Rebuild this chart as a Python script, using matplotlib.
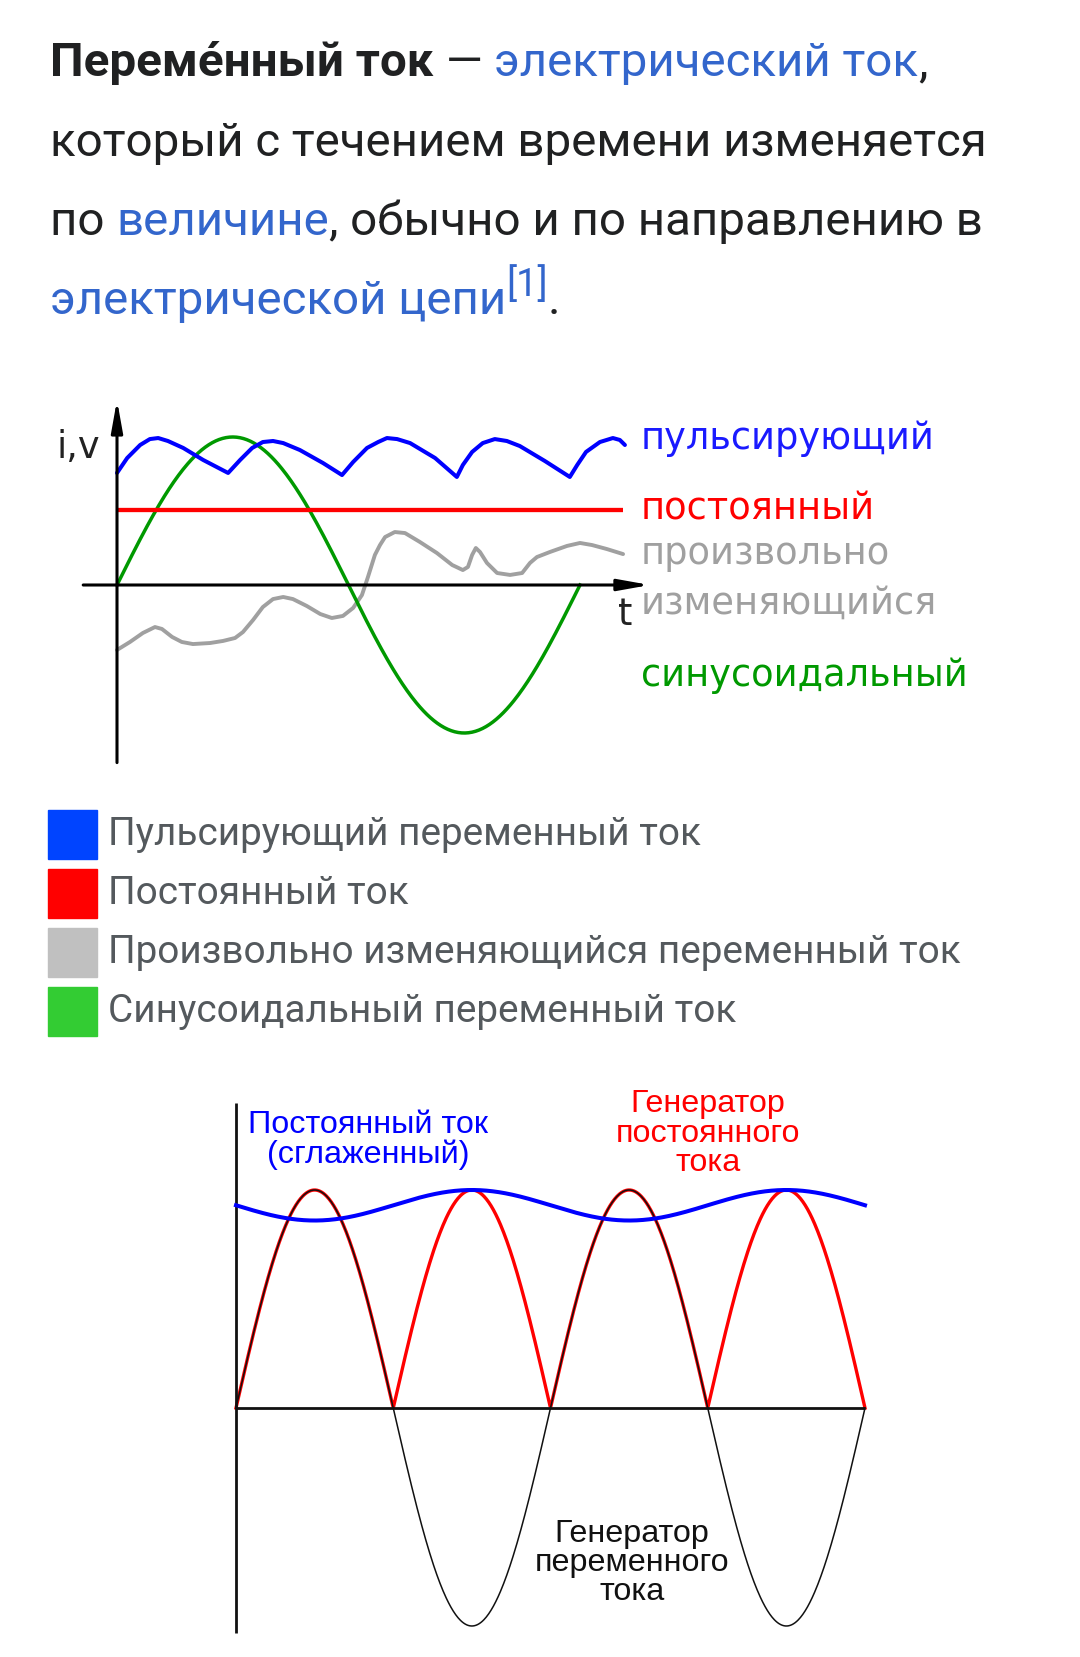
import numpy as np
import matplotlib
matplotlib.use("Agg")
import matplotlib.pyplot as plt

# ---- data: chart 1 (kinds of current) ----
pulse_t = [0.00, 0.22, 0.50, 0.71, 0.89, 1.10, 1.43, 1.86, 2.40,
           2.66, 2.92, 3.15, 3.37, 3.59, 3.95, 4.45, 4.86,
           5.10, 5.40, 5.64, 5.83, 6.05, 6.33, 6.87, 7.34,
           7.47, 7.67, 7.90, 8.16, 8.42, 8.70, 9.24, 9.78,
           9.94, 10.13, 10.43, 10.71, 10.86, 10.97]
pulse_i = [0.757, 0.858, 0.946, 0.986, 0.993, 0.973, 0.926, 0.845, 0.757,
           0.845, 0.926, 0.966, 0.973, 0.959, 0.912, 0.824, 0.743,
           0.831, 0.926, 0.966, 0.993, 0.986, 0.959, 0.858, 0.730,
           0.811, 0.899, 0.959, 0.986, 0.973, 0.939, 0.838, 0.730,
           0.811, 0.899, 0.966, 0.993, 0.980, 0.946]
const_i = 0.51
const_t_end = 10.93
arb_t = [0.00, 0.28, 0.56, 0.82, 0.97, 1.19, 1.40, 1.64, 2.01, 2.29, 2.55, 2.72,
         2.94, 3.15, 3.37, 3.59, 3.80, 4.10, 4.39, 4.64, 4.88, 5.10, 5.29, 5.42,
         5.57, 5.68, 5.79, 6.00, 6.22, 6.54, 6.91, 7.24, 7.47, 7.58, 7.67, 7.75,
         7.84, 7.99, 8.21, 8.49, 8.75, 8.92, 9.07, 9.35, 9.72, 10.00, 10.26,
         10.58, 10.93]
arb_i = [-0.439, -0.385, -0.324, -0.284, -0.297, -0.351, -0.385, -0.399, -0.392,
         -0.378, -0.358, -0.318, -0.236, -0.149, -0.095, -0.081, -0.095, -0.142,
         -0.196, -0.223, -0.209, -0.155, -0.068, 0.054, 0.203, 0.270, 0.324,
         0.358, 0.351, 0.291, 0.216, 0.135, 0.101, 0.122, 0.203, 0.250, 0.223,
         0.149, 0.081, 0.068, 0.081, 0.149, 0.189, 0.223, 0.264, 0.284, 0.270,
         0.243, 0.209]
sine_amp = 1.0
sine_period = 10.0

labels1 = ["пульсирующий", "постоянный", "произвольно", "изменяющийся", "синусоидальный"]

legend_labels = ["Пульсирующий переменный ток", "Постоянный ток",
                 "Произвольно изменяющийся переменный ток", "Синусоидальный переменный ток"]
legend_colors = ["#0044ff", "#ff0000", "#c0c0c0", "#33cc33"]

# ---- data: chart 2 (rectifier) ----
n_half = 4
ac_amp = 1.0
ripple_mean = 0.93
ripple_amp = 0.07

W, H = 1080, 1657
fig = plt.figure(figsize=(W / 100, H / 100), dpi=100)
renderer = fig.canvas.get_renderer()


def fx(x):
    return x / W


def fy(y):
    return 1 - y / H


def width_of(s, size, **kw):
    t = fig.text(0, 0, s, fontsize=size, **kw)
    w = t.get_window_extent(renderer).width
    t.remove()
    return w


def advance(s, size, **kw):
    return width_of("|" + s + "|", size, **kw) - width_of("||", size, **kw)


def fit(s, px, **kw):
    return 20 * px / width_of(s, 20, **kw)


DARK = "#202122"
LINK = "#3366cc"

# ---- paragraph ----
fs_p = fit("который с течением времени изменяется", 936, family="Roboto")
lines = [
    [("Переме́нный ток", DARK, "bold", 1.0, 0), (" — ", DARK, "normal", 1.0, 0),
     ("электрический ток", LINK, "normal", 1.0, 0), (",", DARK, "normal", 1.0, 0)],
    [("который с течением времени изменяется", DARK, "normal", 1.0, 0)],
    [("по ", DARK, "normal", 1.0, 0), ("величине", LINK, "normal", 1.0, 0),
     (", обычно и по направлению в", DARK, "normal", 1.0, 0)],
    [("электрической цепи", LINK, "normal", 1.0, 0), ("[1]", LINK, "normal", 0.8, 18),
     (".", DARK, "normal", 1.0, 0)],
]
baselines = [76, 156, 235, 314]
for parts, yb in zip(lines, baselines):
    x = 50
    for s, c, wgt, sc, rise in parts:
        kw = dict(family="Roboto", weight=wgt)
        fig.text(fx(x), fy(yb - rise), s, fontsize=fs_p * sc, color=c, va="baseline", **kw)
        x += advance(s, fs_p * sc, **kw)

# ---- chart 1 ----
ax1 = fig.add_axes([fx(40), fy(790), fx(1060) - fx(40), fy(380) - fy(790)])
ax1.set_xlim((40 - 117) / 46.3, (1060 - 117) / 46.3)
ax1.set_ylim((585 - 790) / 148, (585 - 380) / 148)
ax1.axis("off")

arrow = dict(arrowstyle="-|>,head_length=0.95,head_width=0.17", mutation_scale=20,
             lw=2.2, color="black", shrinkA=0, shrinkB=0)
ax1.annotate("", xy=(11.51, 0), xytext=(-0.73, 0), arrowprops=arrow)
ax1.annotate("", xy=(0, 1.25), xytext=(0, -1.2), arrowprops=arrow)

ax1.plot(arb_t, arb_i, color="#a0a0a0", lw=2.8, solid_joinstyle="round", solid_capstyle="round")
ts = np.linspace(0, sine_period, 400)
ax1.plot(ts, sine_amp * np.sin(2 * np.pi * ts / sine_period), color="#009900", lw=2.5)
ax1.plot([0, const_t_end], [const_i, const_i], color="#ff0000", lw=3.1, solid_capstyle="butt")
ax1.plot(pulse_t, pulse_i, color="#0000ff", lw=2.9, solid_joinstyle="round", solid_capstyle="round")

fs_l = fit("пульсирующий", 293, family="DejaVu Sans")
label_colors = ["#1a1aff", "#ff0000", "#a0a0a0", "#a0a0a0", "#009900"]
label_base = [449, 519, 564, 614, 686]
for s, c, yb in zip(labels1, label_colors, label_base):
    fig.text(fx(641), fy(yb), s, fontsize=fs_l, color=c, family="DejaVu Sans", va="baseline")
fig.text(fx(56), fy(458), "i,v", fontsize=fs_l, color="#222222", family="DejaVu Sans", va="baseline")
fig.text(fx(625), fy(625), "t", fontsize=fs_l, color="#222222", family="DejaVu Sans",
         va="baseline", ha="center")

# ---- legend ----
fs_g = fit(legend_labels[2], 852, family="Roboto")
for k, (s, c) in enumerate(zip(legend_labels, legend_colors)):
    top = 810 + 59 * k
    fig.patches.append(plt.Rectangle((fx(48), fy(top + 49)), fx(49), 49 / H, color=c,
                                     transform=fig.transFigure, figure=fig))
    fig.text(fx(108), fy(845 + 59 * k), s, fontsize=fs_g, color="#54595d", family="Roboto",
             va="baseline")

# ---- chart 2 ----
ax2 = fig.add_axes([fx(200), fy(1650), fx(1060) - fx(200), fy(1080) - fy(1650)])
ax2.set_xlim((200 - 236) / 157.25, (1060 - 236) / 157.25)
ax2.set_ylim((1408 - 1650) / 218, (1408 - 1080) / 218)
ax2.axis("off")

tt = np.linspace(0, n_half, 800)
ac = ac_amp * np.sin(np.pi * tt)
ax2.plot(tt, np.abs(ac), color="#ff0000", lw=2.4)
ax2.plot(tt, ac, color="#111111", lw=1.1)
ax2.plot([0, 0], [-1.03, 1.40], color="#111111", lw=2.0, solid_capstyle="butt")
ax2.plot([0, n_half], [0, 0], color="#111111", lw=2.0, solid_capstyle="butt")
ax2.plot(tt, ripple_mean - ripple_amp * np.sin(np.pi * tt), color="#0000ff", lw=2.9)

fs_2 = fit("Постоянный ток", 240, family="Liberation Sans")
for s, yb in zip(["Постоянный ток", "(сглаженный)"], [1133, 1163]):
    fig.text(fx(368), fy(yb), s, fontsize=fs_2, color="#0000ff", family="Liberation Sans",
             ha="center", va="baseline")
for s, yb in zip(["Генератор", "постоянного", "тока"], [1112, 1142, 1171]):
    fig.text(fx(708), fy(yb), s, fontsize=fs_2, color="#ff0000", family="Liberation Sans",
             ha="center", va="baseline")
for s, yb in zip(["Генератор", "переменного", "тока"], [1542, 1571, 1600]):
    fig.text(fx(632), fy(yb), s, fontsize=fs_2, color="#111111", family="Liberation Sans",
             ha="center", va="baseline")

fig.savefig("out.png", dpi=100, facecolor="white")
